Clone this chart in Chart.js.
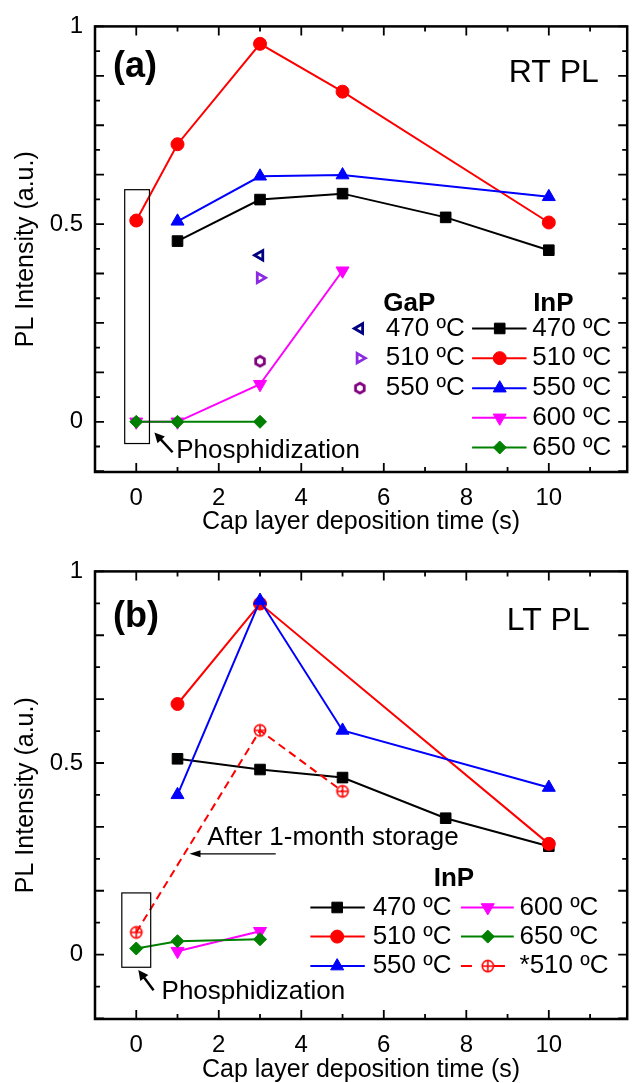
<!DOCTYPE html>
<html>
<head>
<meta charset="utf-8">
<script src="https://cdn.jsdelivr.net/npm/chart.js@4/dist/chart.umd.min.js"></script>
<style>
  body { margin: 0; background: #fff; }
  #wrap { position: relative; width: 636px; height: 1083px; }
  .panel { position: absolute; left: 0; width: 636px; }
</style>
</head>
<body>
<div id="wrap">
  <div class="panel" style="top:0;height:545px"><canvas id="chartA"></canvas></div>
  <div class="panel" style="top:545px;height:538px"><canvas id="chartB"></canvas></div>
</div>
<script>
// axis labels
const xTickLabels = [0, 2, 4, 6, 8, 10];
const yTickLabels = [0, 0.5, 1];
const legendTemps = ['470 ºC', '510 ºC', '550 ºC', '600 ºC', '650 ºC'];

// (a) RT PL
const rtInP470X = [1, 3, 5, 7.5, 10];
const rtInP470Y = [0.457, 0.562, 0.577, 0.517, 0.434];
const rtInP510X = [0, 1, 3, 5, 10];
const rtInP510Y = [0.509, 0.702, 0.956, 0.835, 0.504];
const rtInP550X = [1, 3, 5, 10];
const rtInP550Y = [0.507, 0.621, 0.624, 0.569];
const rtInP600X = [0, 1, 3, 5];
const rtInP600Y = [0, 0, 0.095, 0.382];
const rtInP650X = [0, 1, 3];
const rtInP650Y = [0, 0, 0];
const rtGaPX = [3];
const rtGaP470Y = [0.421];
const rtGaP510Y = [0.364];
const rtGaP550Y = [0.153];

// (b) LT PL
const ltInP470X = [1, 3, 5, 7.5, 10];
const ltInP470Y = [0.511, 0.483, 0.462, 0.356, 0.283];
const ltInP510X = [1, 3, 10];
const ltInP510Y = [0.654, 0.916, 0.289];
const ltInP550X = [1, 3, 5, 10];
const ltInP550Y = [0.417, 0.924, 0.585, 0.436];
const ltInP600X = [1, 3];
const ltInP600Y = [0.009, 0.061];
const ltInP650X = [0, 1, 3];
const ltInP650Y = [0.016, 0.035, 0.040];
const ltStoredX = [0, 3, 5];   // *510 ºC after 1-month storage
const ltStoredY = [0.058, 0.585, 0.426];

const FONT = '"Liberation Sans", Arial, sans-serif';

// custom markers (hexagon, circled plus)
function makeHex(color) {
  const c = document.createElement('canvas');
  c.width = c.height = 16;
  const g = c.getContext('2d');
  g.strokeStyle = color; g.lineWidth = 2.8;
  g.beginPath();
  for (let i = 0; i < 6; i++) {
    const a = -Math.PI / 2 + i * Math.PI / 3;
    const px = 8 + 5 * Math.cos(a), py = 8 + 5 * Math.sin(a);
    i ? g.lineTo(px, py) : g.moveTo(px, py);
  }
  g.closePath(); g.stroke();
  return c;
}
function makeCirclePlus(color) {
  const c = document.createElement('canvas');
  c.width = c.height = 16;
  const g = c.getContext('2d');
  g.strokeStyle = color; g.lineWidth = 1.6;
  g.beginPath(); g.arc(8, 8, 5.6, 0, Math.PI * 2); g.stroke();
  g.beginPath(); g.moveTo(2.4, 8); g.lineTo(13.6, 8); g.moveTo(8, 2.4); g.lineTo(8, 13.6); g.stroke();
  return c;
}
const hexImg = makeHex('#800080');
const plusImg = makeCirclePlus('#ff0000');

const ST = {
  k470: { color: '#000000', pointStyle: 'rect', radius: 7.5 },
  r510: { color: '#ff0000', pointStyle: 'circle', radius: 6.5 },
  b550: { color: '#0000ff', pointStyle: 'triangle', radius: 7.5 },
  m600: { color: '#ff00ff', pointStyle: 'triangle', rotation: 180, radius: 7.5 },
  g650: { color: '#008000', pointStyle: 'rectRot', radius: 6.5 },
  gaP470: { color: '#000080', pointStyle: 'triangle', rotation: -90, radius: 5.5, open: true },
  gaP510: { color: '#8a2be2', pointStyle: 'triangle', rotation: 90, radius: 5.5, open: true },
  gaP550: { color: '#800080', pointStyle: hexImg, radius: 6, open: true },
  star510: { color: '#ff0000', pointStyle: plusImg, radius: 6, open: true, dash: [8, 5] }
};

function pts(xs, ys) { return xs.map((v, i) => ({ x: v, y: ys[i] })); }

function series(label, xs, ys, st, order, line) {
  return {
    label, data: pts(xs, ys), showLine: line !== false, order,
    borderColor: st.color, backgroundColor: st.color, borderWidth: 2,
    borderDash: st.dash || [],
    pointStyle: st.pointStyle, rotation: st.rotation || 0,
    pointRadius: st.radius, pointHoverRadius: st.radius,
    pointBorderColor: st.color,
    pointBackgroundColor: st.open ? 'rgba(0,0,0,0)' : st.color,
    pointBorderWidth: st.open ? 2.8 : 1
  };
}

function drawMarker(ctx, st, x, y) {
  ctx.save();
  ctx.strokeStyle = st.color;
  ctx.fillStyle = st.open ? 'rgba(0,0,0,0)' : st.color;
  ctx.lineWidth = st.open ? 2.8 : 1;
  Chart.helpers.drawPoint(ctx, { pointStyle: st.pointStyle, rotation: st.rotation || 0, radius: st.radius, borderWidth: ctx.lineWidth }, x, y);
  ctx.restore();
}

function arrow(ctx, x1, y1, x2, y2, lw, hl, hw) {
  const a = Math.atan2(y2 - y1, x2 - x1);
  ctx.lineWidth = lw;
  ctx.beginPath();
  ctx.moveTo(x1, y1);
  ctx.lineTo(x2 - Math.cos(a) * hl * 0.8, y2 - Math.sin(a) * hl * 0.8);
  ctx.stroke();
  ctx.beginPath();
  ctx.moveTo(x2, y2);
  ctx.lineTo(x2 - Math.cos(a) * hl + Math.sin(a) * hw, y2 - Math.sin(a) * hl - Math.cos(a) * hw);
  ctx.lineTo(x2 - Math.cos(a) * hl - Math.sin(a) * hw, y2 - Math.sin(a) * hl + Math.cos(a) * hw);
  ctx.closePath();
  ctx.fill();
}

function panelPlugin(opt) {
  return {
    id: 'panelDeco',
    afterDraw(chart) {
      const { ctx, chartArea: a, scales: { x, y } } = chart;
      const px = v => x.getPixelForValue(v), py = v => y.getPixelForValue(v);
      ctx.save();
      ctx.strokeStyle = '#000'; ctx.fillStyle = '#000';

      // inward ticks on all four sides
      ctx.lineWidth = 1.8;
      ctx.beginPath();
      for (let v = -1; v <= x.max; v++) {
        const X = px(v), L = v % 2 === 0 ? 9 : 5;
        ctx.moveTo(X, a.bottom); ctx.lineTo(X, a.bottom - L);
        ctx.moveTo(X, a.top); ctx.lineTo(X, a.top + L);
      }
      for (let i = Math.ceil(y.min / opt.yStep); i * opt.yStep <= y.max + 1e-9; i++) {
        const Y = py(i * opt.yStep), L = i % 2 === 0 ? 9 : 5;
        ctx.moveTo(a.left, Y); ctx.lineTo(a.left + L, Y);
        ctx.moveTo(a.right, Y); ctx.lineTo(a.right - L, Y);
      }
      ctx.stroke();

      // frame
      ctx.lineWidth = 2.5;
      ctx.strokeRect(a.left, a.top, a.right - a.left, a.bottom - a.top);

      // phosphidization box + arrows
      ctx.lineWidth = 1.2;
      const b = opt.box;
      ctx.strokeRect(px(b[0]), py(b[2]), px(b[1]) - px(b[0]), py(b[3]) - py(b[2]));
      opt.arrows.forEach(r => arrow(ctx, px(r[0]), py(r[1]), px(r[2]), py(r[3]), r[4], r[5], r[6]));

      // texts
      ctx.textBaseline = 'middle';
      opt.texts.forEach(t => {
        ctx.font = (t.bold ? 'bold ' : '') + t.size + 'px ' + FONT;
        ctx.textAlign = t.align || 'left';
        ctx.fillText(t.text, px(t.x), py(t.y));
      });

      // legend entries
      opt.legend.forEach(e => {
        const Y = py(e.y);
        if (e.line) {
          ctx.save();
          ctx.strokeStyle = e.st.color; ctx.lineWidth = 2;
          ctx.setLineDash(e.st.dash ? [11, 22] : []);
          ctx.beginPath(); ctx.moveTo(px(e.line[0]), Y); ctx.lineTo(px(e.line[1]), Y); ctx.stroke();
          ctx.restore();
        }
        drawMarker(ctx, e.st, px(e.mx), Y);
        ctx.fillStyle = '#000';
        ctx.font = '26px ' + FONT; ctx.textAlign = 'left';
        ctx.fillText(e.text, px(e.tx), Y);
      });
      ctx.restore();
    }
  };
}

function scalesFor(yMin, axisH, titlePad) {
  const tickFont = { family: FONT, size: 24 };
  const titleFont = { family: FONT, size: 25, lineHeight: 1 };
  return {
    x: {
      type: 'linear', min: -1, max: 11.9,
      grid: { display: false, drawTicks: false }, border: { display: false },
      ticks: { color: '#000', font: tickFont, padding: 12, maxRotation: 0, autoSkip: false, callback: v => String(v) },
      afterBuildTicks: s => { s.ticks = xTickLabels.map(v => ({ value: v })); },
      afterFit: s => { s.height = axisH; },
      title: { display: true, text: 'Cap layer deposition time (s)', color: '#000', font: titleFont, padding: { top: 0, bottom: titlePad } }
    },
    y: {
      type: 'linear', min: yMin, max: 1,
      grid: { display: false, drawTicks: false }, border: { display: false },
      ticks: { color: '#000', font: tickFont, padding: 12, autoSkip: false, callback: v => String(v) },
      afterBuildTicks: s => { s.ticks = yTickLabels.map(v => ({ value: v })); },
      afterFit: s => { s.width = 95; },
      title: { display: true, text: 'PL Intensity (a.u.)', color: '#000', font: titleFont, padding: { top: 14, bottom: 0 } }
    }
  };
}

const baseOpts = (yMin, axisH, titlePad, padTop) => ({
  responsive: true, maintainAspectRatio: false, animation: false,
  layout: { padding: { top: padTop, right: 4, left: 0, bottom: 0 } },
  plugins: { legend: { display: false }, tooltip: { enabled: false } },
  elements: { line: { tension: 0 } },
  scales: scalesFor(yMin, axisH, titlePad)
});

// panel (a)
new Chart(document.getElementById('chartA'), {
  type: 'scatter',
  data: {
    datasets: [
      series('InP 470 ºC', rtInP470X, rtInP470Y, ST.k470, 5),
      series('InP 510 ºC', rtInP510X, rtInP510Y, ST.r510, 4),
      series('InP 550 ºC', rtInP550X, rtInP550Y, ST.b550, 3),
      series('InP 600 ºC', rtInP600X, rtInP600Y, ST.m600, 2),
      series('InP 650 ºC', rtInP650X, rtInP650Y, ST.g650, 1),
      series('GaP 470 ºC', rtGaPX, rtGaP470Y, ST.gaP470, 0, false),
      series('GaP 510 ºC', rtGaPX, rtGaP510Y, ST.gaP510, 0, false),
      series('GaP 550 ºC', rtGaPX, rtGaP550Y, ST.gaP550, 0, false)
    ]
  },
  options: baseOpts(-0.127, 73, 10.5, 22),
  plugins: [panelPlugin({
    yStep: 0.0625,
    box: [-0.28, 0.32, 0.587, -0.055],
    arrows: [[0.88, -0.077, 0.44, -0.027, 2.5, 10, 5]],
    texts: [
      { text: '(a)', x: -0.565, y: 0.896, size: 36, bold: true },
      { text: 'RT PL', x: 9.03, y: 0.881, size: 32 },
      { text: 'Phosphidization', x: 0.97, y: -0.073, size: 26 },
      { text: 'GaP', x: 6.62, y: 0.299, size: 26, bold: true, align: 'center' },
      { text: 'InP', x: 10.11, y: 0.299, size: 26, bold: true, align: 'center' }
    ],
    legend: [
      { st: ST.gaP470, mx: 5.42, tx: 6.05, y: 0.236, text: legendTemps[0] },
      { st: ST.gaP510, mx: 5.42, tx: 6.05, y: 0.161, text: legendTemps[1] },
      { st: ST.gaP550, mx: 5.42, tx: 6.05, y: 0.085, text: legendTemps[2] },
      { st: ST.k470, line: [8.14, 9.46], mx: 8.81, tx: 9.60, y: 0.236, text: legendTemps[0] },
      { st: ST.r510, line: [8.14, 9.46], mx: 8.81, tx: 9.60, y: 0.161, text: legendTemps[1] },
      { st: ST.b550, line: [8.14, 9.46], mx: 8.81, tx: 9.60, y: 0.085, text: legendTemps[2] },
      { st: ST.m600, line: [8.14, 9.46], mx: 8.81, tx: 9.60, y: 0.010, text: legendTemps[3] },
      { st: ST.g650, line: [8.14, 9.46], mx: 8.81, tx: 9.60, y: -0.065, text: legendTemps[4] }
    ]
  })]
});

// panel (b)
new Chart(document.getElementById('chartB'), {
  type: 'scatter',
  data: {
    datasets: [
      series('InP 470 ºC', ltInP470X, ltInP470Y, ST.k470, 6),
      series('InP 510 ºC', ltInP510X, ltInP510Y, ST.r510, 5),
      series('InP 550 ºC', ltInP550X, ltInP550Y, ST.b550, 4),
      series('InP 600 ºC', ltInP600X, ltInP600Y, ST.m600, 3),
      series('InP 650 ºC', ltInP650X, ltInP650Y, ST.g650, 2),
      series('*510 ºC', ltStoredX, ltStoredY, ST.star510, 1)
    ]
  },
  options: baseOpts(-0.168, 64, 0.5, 23),
  plugins: [panelPlugin({
    yStep: 1 / 12,
    box: [-0.35, 0.35, 0.161, -0.033],
    arrows: [
      [0.42, -0.093, 0.05, -0.04, 2.5, 10, 5],
      [3.38, 0.263, 1.29, 0.263, 1.3, 11, 3.5]
    ],
    texts: [
      { text: '(b)', x: -0.565, y: 0.882, size: 36, bold: true },
      { text: 'LT PL', x: 8.98, y: 0.869, size: 32 },
      { text: 'Phosphidization', x: 0.613, y: -0.098, size: 26 },
      { text: 'After 1-month storage', x: 1.72, y: 0.304, size: 26 },
      { text: 'InP', x: 7.70, y: 0.198, size: 26, bold: true, align: 'center' }
    ],
    legend: [
      { st: ST.k470, line: [4.22, 5.54], mx: 4.87, tx: 5.73, y: 0.123, text: legendTemps[0] },
      { st: ST.r510, line: [4.22, 5.54], mx: 4.87, tx: 5.73, y: 0.047, text: legendTemps[1] },
      { st: ST.b550, line: [4.22, 5.54], mx: 4.87, tx: 5.73, y: -0.030, text: legendTemps[2] },
      { st: ST.m600, line: [7.87, 9.15], mx: 8.52, tx: 9.29, y: 0.123, text: legendTemps[3] },
      { st: ST.g650, line: [7.87, 9.15], mx: 8.52, tx: 9.29, y: 0.047, text: legendTemps[4] },
      { st: ST.star510, line: [7.87, 9.15], mx: 8.52, tx: 9.29, y: -0.030, text: '*510 ºC' }
    ]
  })]
});
</script>
</body>
</html>
